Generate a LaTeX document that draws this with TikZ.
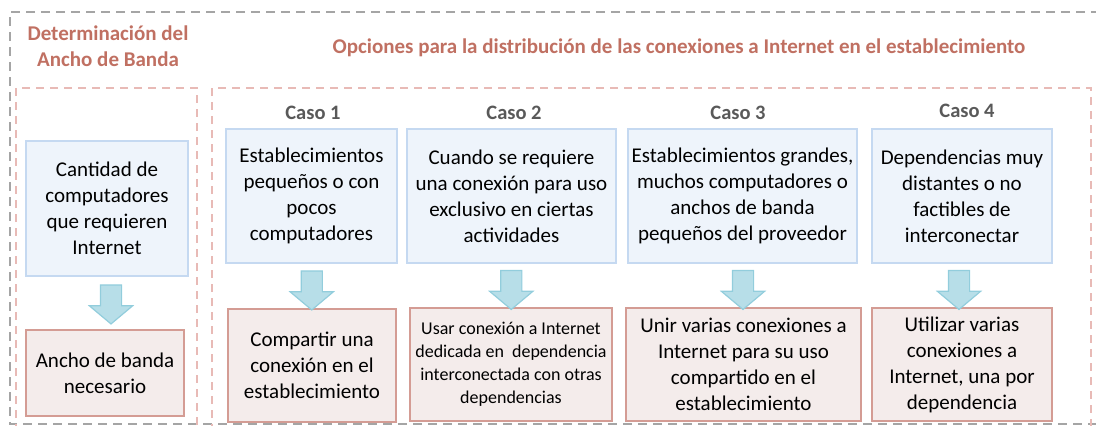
\documentclass[tikz,border=0pt]{standalone}
\usepackage{fontspec}
\setmainfont{Carlito}
\usetikzlibrary{shapes.arrows,calc}

\definecolor{titlered}{RGB}{192,112,98}
\definecolor{casogray}{RGB}{89,89,89}
\definecolor{bluefill}{RGB}{238,244,251}
\definecolor{blueline}{RGB}{197,217,241}
\definecolor{pinkfill}{RGB}{244,236,235}
\definecolor{pinkline}{RGB}{212,156,148}
\definecolor{arrowfill}{RGB}{183,222,232}
\definecolor{arrowline}{RGB}{146,205,220}
\definecolor{framegray}{RGB}{165,165,165}
\definecolor{framepink}{RGB}{232,186,182}

\begin{document}
\begin{tikzpicture}[x=1pt,y=-1pt,
    bluebox/.style={draw=blueline, fill=bluefill, line width=1.6pt, align=center,
      inner sep=0pt, font=\fontsize{21}{26}\selectfont},
    pinkbox/.style={draw=pinkline, fill=pinkfill, line width=1.6pt, align=center,
      inner sep=0pt, font=\fontsize{21}{26}\selectfont},
    fatarrow/.style={single arrow, draw=arrowline, fill=arrowfill, line width=1.2pt,
      rotate=-90, inner xsep=0pt, inner ysep=10pt, minimum height=39pt,
      single arrow head extend=11pt, single arrow tip angle=100}]

  \useasboundingbox (0,0) rectangle (1096,426);

  % frames
  \draw[framegray, line width=2pt, dash pattern=on 9pt off 6pt]
    (1100,12) -- (10,12) -- (10,424) -- (1100,424);
  \begin{scope}[framepink, line width=1.6pt, dash pattern=on 8pt off 6pt]
    \draw (16,432) -- (16,88) -- (197,88) -- (197,432);
    \draw (212,432) -- (212,88) -- (1091,88) -- (1091,432);
  \end{scope}

  % titles
  \begin{scope}[every node/.style={text=titlered, align=center,
      font=\fontsize{21}{26}\selectfont\bfseries}]
    \node (t1) at (108,46) {Determinación del\\Ancho de Banda};
    \node (t2) at (679,48) {Opciones para la distribución de las conexiones a Internet en el establecimiento};
  \end{scope}

  \begin{scope}[every node/.style={text=casogray, font=\fontsize{20.5}{24}\selectfont\bfseries}]
    \node (c1) at (313,113) {Caso 1};
    \node (c2) at (514,113) {Caso 2};
    \node (c3) at (738,113) {Caso 3};
    \node (c4) at (967,111) {Caso 4};
  \end{scope}

  % upper boxes
  \node[bluebox, minimum width=162pt, minimum height=135pt] (b0) at (107,208.5)
    {Cantidad de\\computadores\\que requieren\\Internet};
  \node[bluebox, minimum width=171pt, minimum height=134pt] (b1) at (311.5,196)
    {Establecimientos\\pequeños o con\\pocos\\computadores};
  \node[bluebox, minimum width=209pt, minimum height=134pt] (b2) at (511.5,196)
    {Cuando se requiere\\una conexión para uso\\exclusivo en ciertas\\actividades};
  \node[bluebox, minimum width=229pt, minimum height=134pt] (b3) at (742.5,196)
    {Establecimientos grandes,\\muchos computadores o\\anchos de banda\\pequeños del proveedor};
  \node[bluebox, minimum width=180pt, minimum height=134pt] (b4) at (962,196)
    {Dependencias muy\\distantes o no\\factibles de\\interconectar};

  % lower boxes
  \node[pinkbox, minimum width=158pt, minimum height=86pt] (p0) at (105,373)
    {Ancho de banda\\necesario};
  \node[pinkbox, minimum width=168pt, minimum height=113pt] (p1) at (312,365.5)
    {Compartir una\\conexión en el\\establecimiento};
  \node[pinkbox, minimum width=202pt, minimum height=113pt,
    font=\fontsize{18}{23}\selectfont] (p2) at (511,364.5)
    {Usar conexión a Internet\\dedicada en~ dependencia\\interconectada con otras\\dependencias};
  \node[pinkbox, minimum width=235pt, minimum height=113pt] (p3) at (743.5,364.5)
    {Unir varias conexiones a\\Internet para su uso\\compartido en el\\establecimiento};
  \node[pinkbox, minimum width=180pt, minimum height=113pt] (p4) at (962,364.5)
    {Utilizar varias\\conexiones a\\Internet, una por\\dependencia};

  % arrows
  \node[fatarrow] (a0) at ($(b0.south)!0.5!(p0.north)+(5,-3)$) {};
  \node[fatarrow] (a1) at ($(b1.south)!0.5!(p1.north)$) {};
  \node[fatarrow] (a2) at ($(b2.south)!0.5!(p2.north)$) {};
  \node[fatarrow] (a3) at ($(b3.south)!0.5!(p3.north)$) {};
  \node[fatarrow] (a4) at ($(b4.south)!0.5!(p4.north)-(3,0)$) {};

\end{tikzpicture}
\end{document}
